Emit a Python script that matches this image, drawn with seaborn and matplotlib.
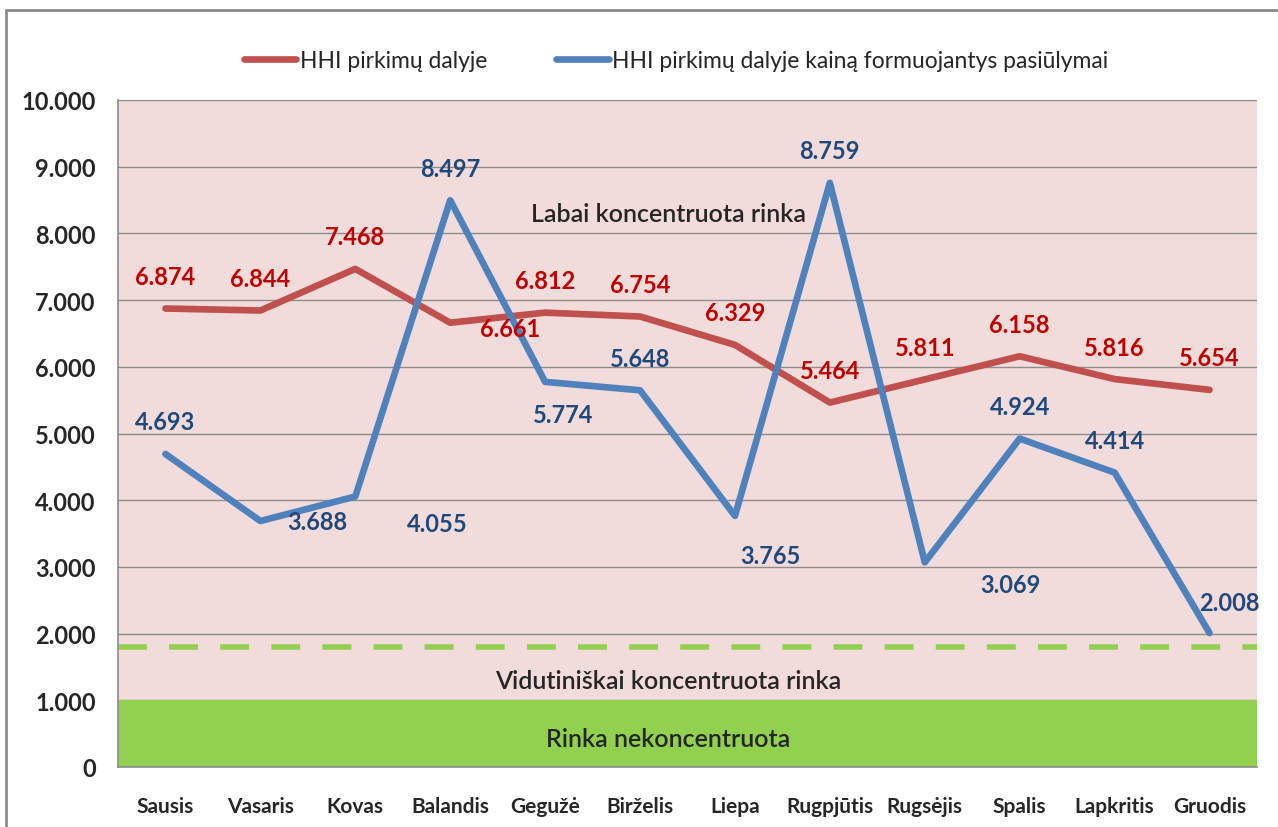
import matplotlib
matplotlib.use("Agg")
import matplotlib.pyplot as plt
from matplotlib.lines import Line2D
from matplotlib.ticker import FuncFormatter, FixedLocator
import pandas as pd
import seaborn as sns

# ─── DATA ──────────────────────────────────────────────────────────────────
months = ['Sausis', 'Vasaris', 'Kovas', 'Balandis', 'Gegužė', 'Birželis',
          'Liepa', 'Rugpjūtis', 'Rugsėjis', 'Spalis', 'Lapkritis', 'Gruodis']
hhi_total = [6874, 6844, 7468, 6661, 6812, 6754, 6329, 5464, 5811, 6158, 5816, 5654]
hhi_price = [4693, 3688, 4055, 8497, 5774, 5648, 3765, 8759, 3069, 4924, 4414, 2008]

name_total = 'HHI pirkimų dalyje'
name_price = 'HHI pirkimų dalyje kainą formuojantys pasiūlymai'

moderate_limit = 1800      # vidutiniškai koncentruota rinka
low_limit = 1000           # rinka nekoncentruota
y_max = 10000

# label offsets in pixels (dx, dy), screen coords (dy positive = down)
off_total = [(0, -32)] * 12
off_total[3] = (60, 6)
off_price = [(0, -32)] * 12
off_price[1] = (57, 0)
off_price[2] = (82, 27)
off_price[4] = (18, 33)
off_price[6] = (35, 40)
off_price[8] = (86, 22)
off_price[11] = (20, -31)

RED = '#C0504D'
BLUE = '#4F81BD'
RED_TXT = '#C00000'
BLUE_TXT = '#1F497D'
GREEN = '#92D050'
PINK = '#F2DCDB'
GRID = '#8C8C8C'

sns.set_style("white")
plt.rcParams['font.family'] = ['Lato', 'DejaVu Sans']

df = pd.DataFrame({'month': months * 2,
                   'value': hhi_total + hhi_price,
                   'series': [name_total] * 12 + [name_price] * 12})

fig = plt.figure(figsize=(12.78, 8.28), dpi=100)
ax = fig.add_axes([118 / 1278, 60 / 828, (1257 - 118) / 1278, (768 - 101) / 828])
ax.set_facecolor(PINK)

sns.lineplot(data=df, x='month', y='value', hue='series', sort=False,
             palette={name_total: RED, name_price: BLUE}, linewidth=4.8,
             legend=False, ax=ax, zorder=5)

ax.set_xlim(-0.5, len(months) - 0.5)
ax.set_ylim(0, y_max)

# zones
ax.axhspan(0, low_limit, color=GREEN, zorder=2, lw=0)
ax.axhline(moderate_limit, color=GREEN, lw=4, linestyle=(0, (5.2, 4)), zorder=3)
for yv in range(1000, y_max + 1, 1000):
    ax.axhline(yv, color=GRID, lw=1, zorder=1)

zone_kw = dict(ha='center', va='center', fontsize=18, fontweight='semibold', zorder=6)
ax.text(5.3, 8300, 'Labai koncentruota rinka', **zone_kw)
ax.text(5.3, 1300, 'Vidutiniškai koncentruota rinka', **zone_kw)
ax.text(5.3, 420, 'Rinka nekoncentruota', **zone_kw)

# data labels
px = 0.72
for i, (v, (dx, dy)) in enumerate(zip(hhi_total, off_total)):
    ax.annotate(f'{v:,}'.replace(',', '.'), (i, v), xytext=(dx * px, -dy * px),
                textcoords='offset points', ha='center', va='center',
                color=RED_TXT, fontsize=17, fontweight='bold', zorder=7)
for i, (v, (dx, dy)) in enumerate(zip(hhi_price, off_price)):
    ax.annotate(f'{v:,}'.replace(',', '.'), (i, v), xytext=(dx * px, -dy * px),
                textcoords='offset points', ha='center', va='center',
                color=BLUE_TXT, fontsize=17, fontweight='bold', zorder=7)

# axes / ticks
for s in ['top', 'right']:
    ax.spines[s].set_visible(False)
for s in ['left', 'bottom']:
    ax.spines[s].set_color(GRID)
    ax.spines[s].set_linewidth(1.2)
    ax.spines[s].set_zorder(8)

ax.yaxis.set_major_locator(FixedLocator(range(0, y_max + 1, 1000)))
ax.yaxis.set_major_formatter(FuncFormatter(lambda v, p: f'{int(v):,}'.replace(',', '.')))
ax.tick_params(axis='y', direction='out', length=7, color=GRID, labelsize=17, pad=9)
for lab in ax.get_yticklabels():
    lab.set_fontweight('bold')

ax.set_xticks([i - 0.5 for i in range(len(months) + 1)])
ax.set_xticklabels([])
ax.set_xticks(range(len(months)), minor=True)
ax.set_xticklabels(months, minor=True, fontsize=15, fontweight='bold')
ax.tick_params(axis='x', which='major', direction='out', length=7, color=GRID)
ax.tick_params(axis='x', which='minor', length=0, pad=21)
ax.set_xlabel('')
ax.set_ylabel('')

# legend
handles = [Line2D([], [], color=RED, lw=4.8, solid_capstyle='round'),
           Line2D([], [], color=BLUE, lw=4.8, solid_capstyle='round')]
fig.legend(handles, [name_total, name_price], loc='center', ncol=2,
           bbox_to_anchor=(676 / 1278, 1 - 62 / 828), frameon=False,
           fontsize=16.5, handlelength=2.3, handletextpad=0.15, columnspacing=3.0)

# chart frame
fig.add_artist(Line2D([6 / 1278, 1], [1 - 11 / 828, 1 - 11 / 828], color=GRID, lw=2))
fig.add_artist(Line2D([6 / 1278, 6 / 1278], [0, 1 - 11 / 828], color=GRID, lw=2))

fig.savefig('out.png', dpi=100)
